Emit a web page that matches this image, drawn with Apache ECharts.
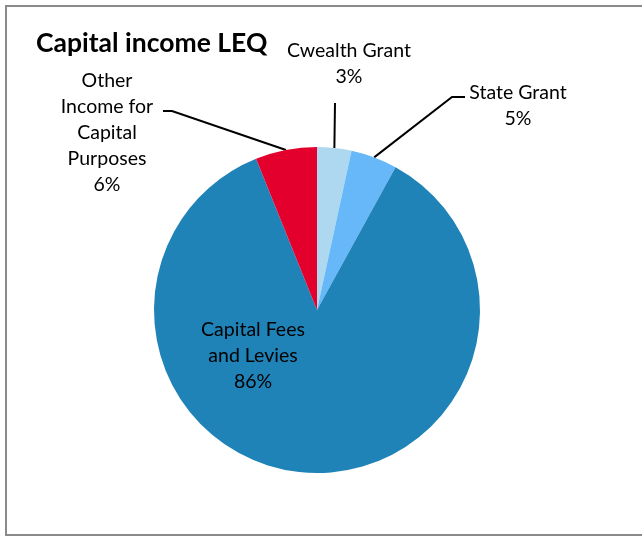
<!DOCTYPE html>
<html><head><meta charset="utf-8">
<script src="https://cdn.jsdelivr.net/npm/echarts@6/dist/echarts.min.js"></script>
<style>html,body{margin:0;padding:0;background:#fff}#c{width:642px;height:537px}</style>
</head><body><div id="c"></div>
<script>
const categories = ['Cwealth Grant', 'State Grant', 'Capital Fees\nand Levies', 'Other\nIncome for\nCapital\nPurposes'];
const values = [3.4, 4.6, 85.9, 6.1];
const colors = ['#AED8F0', '#66B8F8', '#1F83B7', '#E3002D'];
const titleText = 'Capital income LEQ';

const chart = echarts.init(document.getElementById('c'), null, {renderer: 'canvas'});
const FONT = 'Lato';
const labelSpots = [
  {x: 349, y: 38, line: [[335, 103]]},
  {x: 518, y: 80, line: [[452, 97], [465, 97]]},
  {x: 253, y: 317, line: null},
  {x: 107, y: 68, line: [[172, 111], [163, 111]]}
];
chart.setOption({
  animation: false,
  title: {text: titleText, left: 31, top: 25, textStyle: {fontFamily: FONT, fontWeight: 'bold', fontSize: 26.5, color: '#000'}},
  graphic: [{type: 'rect', shape: {x: 6, y: 6, width: 700, height: 529}, style: {fill: 'none', stroke: '#8a8a8a', lineWidth: 2}, z: -1}],
  series: [{
    type: 'pie',
    center: [317, 310],
    radius: [0, 163],
    startAngle: 90,
    clockwise: true,
    data: categories.map((n, i) => ({name: n, value: values[i], itemStyle: {color: colors[i]},
      label: i === 2 ? {position: 'inside'} : {}, labelLine: {show: i !== 2}})),
    label: {
      show: true, fontFamily: FONT, fontSize: 19.5, color: '#000', lineHeight: 26, align: 'center',
      formatter: p => p.name + '\n' + Math.round(p.value) + '%'
    },
    labelLine: {show: true, lineStyle: {color: '#000', width: 2}},
    labelLayout: function (params) {
      const s = labelSpots[params.dataIndex];
      const r = {x: s.x, y: s.y, align: 'center', verticalAlign: 'top'};
      if (s.line && params.labelLinePoints) {
        r.labelLinePoints = [params.labelLinePoints[0]].concat(s.line);
      }
      return r;
    }
  }]
});
</script></body></html>
